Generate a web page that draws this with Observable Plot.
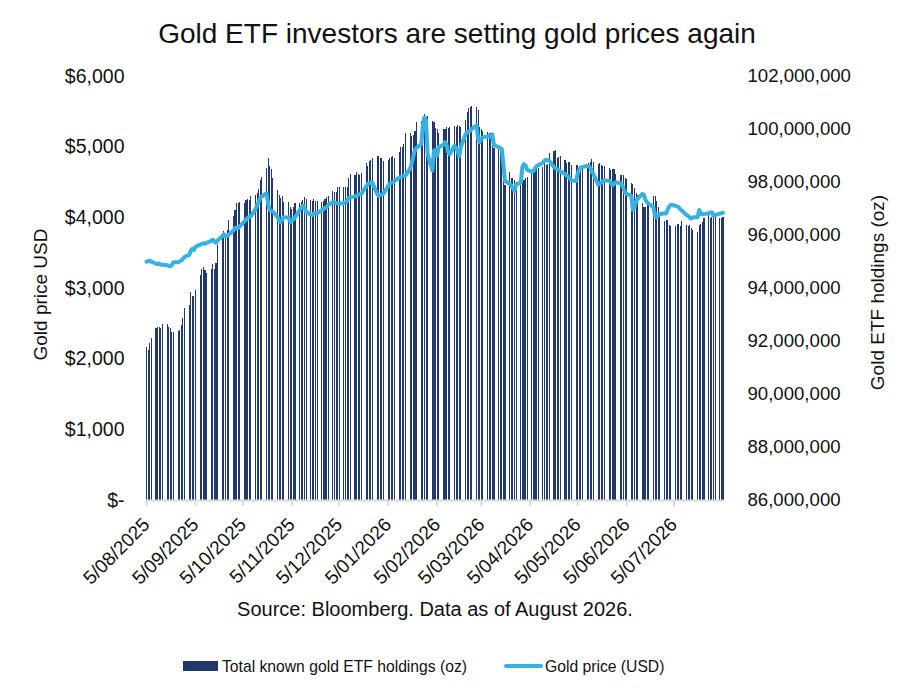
<!DOCTYPE html>
<html>
<head>
<meta charset="utf-8">
<script src="https://cdn.jsdelivr.net/npm/d3@7"></script>
<script src="https://cdn.jsdelivr.net/npm/@observablehq/plot@0.6"></script>
<style>
  html, body { margin: 0; padding: 0; background: #fff; }
  #wrap { position: relative; width: 914px; height: 697px; font-family: "Liberation Sans", Arial, sans-serif; color: #111; }
  #title { position: absolute; left: 0; top: 20px; width: 914px; text-align: center; font-size: 28px; line-height: 28px; white-space: nowrap; }
  #chart { position: absolute; left: 0; top: 60px; }
  #source { position: absolute; left: 146px; width: 578px; top: 599px; text-align: center; font-size: 20px; line-height: 20px; white-space: nowrap; }
  .lg { position: absolute; font-size: 15.7px; line-height: 16px; white-space: nowrap; }
</style>
</head>
<body>
<div id="wrap">
  <div id="title">Gold ETF investors are setting gold prices again</div>
  <div id="chart"></div>
  <div id="source">Source: Bloomberg. Data as of August 2026.</div>
  <div class="lg" style="left:183px;top:661px;width:35px;height:10px;background:#22376b;"></div>
  <div class="lg" style="left:222px;top:659px;">Total known gold ETF holdings (oz)</div>
  <div class="lg" style="left:504px;top:664px;width:39px;height:4px;border-radius:2px;background:#35b1e2;"></div>
  <div class="lg" style="left:545px;top:659px;">Gold price (USD)</div>
</div>
<script>
// Period covered (business days)
const startDate = "2025-08-05";
const endDate = "2026-08-05";

// Total known gold ETF holdings, millions of oz, one value per business day (week by week)
const holdingsM = [
  91.77, 91.66, 91.92, 92.11,
  92.49, 92.52, 92.52, 92.49, 92.63,
  92.63, 92.53, 92.48, 92.34, 92.34,
  92.37, 92.42, 92.60, 92.87, 93.23,
  93.36, 93.85, 93.70, 93.70, 93.92,
  94.49, 94.72, 94.78, 94.68, 94.57,
  94.72, 94.90, 94.72, 94.93, 95.62,
  96.06, 96.14, 96.06, 96.19, 96.57,
  96.72, 96.94, 97.20, 97.22, 97.25,
  97.22, 97.32, 97.35, 97.32, 97.47,
  97.51, 97.60, 97.72, 98.08, 98.20,
  98.52, 98.89, 98.60, 98.48, 98.14,
  97.70, 97.51, 97.38, 97.47, 97.26,
  97.26, 97.04, 97.00, 97.04, 97.20,
  97.20, 97.26, 97.32, 97.42, 97.35,
  97.32, 97.28, 97.35, 97.28, 97.28,
  97.26, 97.30, 97.35, 97.45, 97.47,
  97.66, 97.63, 97.61, 97.81, 97.81,
  97.81, 97.81, 97.81, 98.14, 98.29,
  98.26, 98.36, 98.29, 98.26, 98.33,
  98.71, 98.62, 98.79, 98.83, 98.89,
  98.98, 98.98, 98.89, 98.89, 98.79,
  98.83, 98.89, 98.94, 99.00, 98.89,
  99.12, 99.31, 99.33, 99.42, 99.84,
  99.84, 99.75, 99.77, 99.92, 100.25,
  100.30, 100.43, 100.55, 100.47, 100.50,
  100.30, 100.28, 100.05, 99.99, 99.86,
  100.00, 99.99, 100.06, 100.03, 100.06,
  100.12, 100.06, 100.15, 100.11, 100.09,
  100.34, 100.65, 100.80, 100.84, 100.87,
  100.84, 100.72, 100.06, 99.99, 99.92,
  99.87, 99.84, 99.86, 99.84, 99.27,
  99.40, 99.37, 99.27, 99.14, 97.89,
  98.37, 98.14, 98.16, 98.08, 97.99,
  97.89, 97.99, 98.08, 98.14, 98.18,
  98.39, 98.45, 98.48, 98.48, 98.52,
  98.58, 98.73, 98.64, 98.68, 99.11,
  99.18, 99.21, 98.89, 98.95, 98.98,
  98.83, 98.73, 98.75, 98.77, 98.64,
  98.64, 98.63, 98.60, 98.55, 98.58,
  98.68, 98.70, 98.75, 98.86, 98.75,
  98.68, 98.70, 98.64, 98.60, 98.60,
  98.52, 98.45, 98.48, 98.48, 98.30,
  98.26, 98.26, 98.26, 98.14, 98.10,
  97.95, 97.92, 97.76, 97.57, 97.51,
  97.20, 97.07, 97.05, 97.32, 97.26,
  97.47, 97.47, 97.30, 97.07, 96.82,
  96.54, 96.57, 96.57, 96.38, 96.34,
  96.34, 96.40, 96.40, 96.34, 96.54,
  96.38, 96.34, 96.38, 96.25, 96.19,
  96.12, 96.38, 96.42, 96.50, 96.63,
  96.75, 96.63, 96.67, 96.69, 96.69,
  96.63, 96.63, 96.69
];

// Gold price, USD/oz, one value per business day (week by week)
const goldUSD = [
  3380, 3385, 3395, 3380,
  3350, 3345, 3355, 3335, 3335,
  3330, 3320, 3315, 3330, 3370,
  3370, 3385, 3395, 3415, 3445,
  3475, 3530, 3560, 3545, 3590,
  3620, 3630, 3640, 3635, 3645,
  3675, 3690, 3660, 3645, 3680,
  3740, 3765, 3740, 3745, 3760,
  3820, 3855, 3860, 3855, 3880,
  3950, 3975, 4000, 4010, 4020,
  4120, 4180, 4220, 4280, 4300,
  4350, 4200, 4110, 4100, 4090,
  4010, 3960, 3940, 3980, 4010,
  4000, 3940, 3950, 3980, 4000,
  4110, 4140, 4170, 4150, 4090,
  4040, 4040, 4060, 4060, 4065,
  4110, 4120, 4140, 4150, 4180,
  4225, 4215, 4210, 4205, 4200,
  4210, 4215, 4240, 4280, 4290,
  4300, 4310, 4330, 4335, 4340,
  4440, 4480, 4490, 4495, 4500,
  4340, 4310, 4320, 4330, 4340,
  4450, 4480, 4495, 4500, 4520,
  4570, 4580, 4590, 4600, 4595,
  4700, 4780, 4880, 4960, 4990,
  5040, 5300, 5420, 5380, 4900,
  4670, 4950, 4960, 4880, 5000,
  5030, 5070, 5040, 4930, 4900,
  5020, 4990, 4950, 4870, 5000,
  5180, 5210, 5220, 5230, 5260,
  5310, 5110, 5070, 5120, 5140,
  5150, 5160, 5140, 5180, 5030,
  5000, 4990, 4970, 4750, 4520,
  4480, 4460, 4420, 4380, 4470,
  4500, 4720, 4760, 4740, 4680,
  4650, 4660, 4700, 4730, 4745,
  4780, 4810, 4820, 4815, 4810,
  4720, 4700, 4690, 4675, 4660,
  4620, 4600, 4580, 4560, 4530,
  4520, 4620, 4680, 4710, 4720,
  4735, 4730, 4710, 4660, 4620,
  4470, 4480, 4500, 4520, 4530,
  4525, 4500, 4460, 4480, 4505,
  4490, 4470, 4420, 4360, 4340,
  4310, 4110, 4150, 4230, 4270,
  4340, 4320, 4250, 4220, 4200,
  4150, 4030, 4010, 4030, 4050,
  4065, 4060, 4120, 4160, 4185,
  4170, 4160, 4150, 4120, 4100,
  4040, 4030, 4000, 3990, 4010,
  4010, 4110, 4060, 4050, 4055,
  4065, 4075, 4080, 4030, 4040,
  4060, 4065, 4070
];

// Axis ticks
const xTickDates = ["2025-08-05","2025-09-05","2025-10-05","2025-11-05","2025-12-05","2026-01-05",
                    "2026-02-05","2026-03-05","2026-04-05","2026-05-05","2026-06-05","2026-07-05"];
const leftTicks = [0, 1000, 2000, 3000, 4000, 5000, 6000];
const rightTicks = [86e6, 88e6, 90e6, 92e6, 94e6, 96e6, 98e6, 100e6, 102e6];

const navy = "#22376b";
const blue = "#35b1e2";
const font = "'Liberation Sans', Arial, sans-serif";

const start = new Date(startDate);
const end = new Date(endDate);
const days = d3.utcDay.range(start, d3.utcDay.offset(end, 1)).filter(d => d.getUTCDay() !== 0 && d.getUTCDay() !== 6);
const rows = days.map((d, i) => ({
  date: d,
  next: d3.utcDay.offset(d, 1),
  holdings: holdingsM[i] * 1e6,
  gold: goldUSD[i]
}));

// holdings (oz) expressed on the gold (USD) axis
const hToY = d3.scaleLinear([rightTicks[0], rightTicks[rightTicks.length - 1]], [leftTicks[0], leftTicks[leftTicks.length - 1]]);

const fmtDate = d3.utcFormat("%-d/%m/%Y");

const chart = Plot.plot({
  width: 914,
  height: 585,
  marginTop: 16,
  marginBottom: 145,
  marginLeft: 146,
  marginRight: 190,
  style: { fontFamily: font, fontSize: "19px", color: "#111", background: "#fff" },
  x: { type: "utc", domain: [start, d3.utcDay.offset(end, 1)] },
  y: { domain: [leftTicks[0], leftTicks[leftTicks.length - 1]] },
  marks: [
    Plot.rectY(rows, { x1: "date", x2: "next", y1: 0, y2: d => hToY(d.holdings), fill: navy, insetRight: 0.5, shapeRendering: "crispEdges" }),
    Plot.line(rows, { x: "date", y: "gold", stroke: blue, strokeWidth: 4, strokeLinejoin: "round", strokeLinecap: "round" }),
    Plot.ruleY([0], { stroke: "#d9d9d9", strokeWidth: 2 }),
    Plot.axisX({
      ticks: xTickDates.map(s => new Date(s)),
      tickFormat: fmtDate,
      tickSize: 6,
      tickPadding: 15,
      tickRotate: -45,
      stroke: "#d9d9d9",
      strokeWidth: 2,
      fill: "#111",
      fontSize: 19,
      dx: 0,
      label: null
    }),
    Plot.axisY({
      anchor: "left",
      ticks: leftTicks,
      tickFormat: d => d === 0 ? "$-" : "$" + d3.format(",")(d),
      tickSize: 0,
      tickPadding: 22,
      fontSize: 19.5,
      fill: "#111",
      label: null
    }),
    Plot.axisY({
      anchor: "right",
      ticks: rightTicks.map(v => hToY(v)),
      tickFormat: v => d3.format(",")(Math.round(hToY.invert(v) / 1e6) * 1e6),
      tickSize: 0,
      tickPadding: 23,
      fontSize: 18.6,
      fill: "#111",
      label: null
    }),
    Plot.text(["Gold price USD"], { frameAnchor: "left", dx: -106, dy: 6, rotate: -90, textAnchor: "middle", fontSize: 19, fill: "#111", text: d => d }),
    Plot.text(["Gold ETF holdings (oz)"], { frameAnchor: "right", dx: 153, dy: 4, rotate: -90, textAnchor: "middle", fontSize: 19, fill: "#111", text: d => d })
  ]
});
document.getElementById("chart").appendChild(chart);
</script>
</body>
</html>
